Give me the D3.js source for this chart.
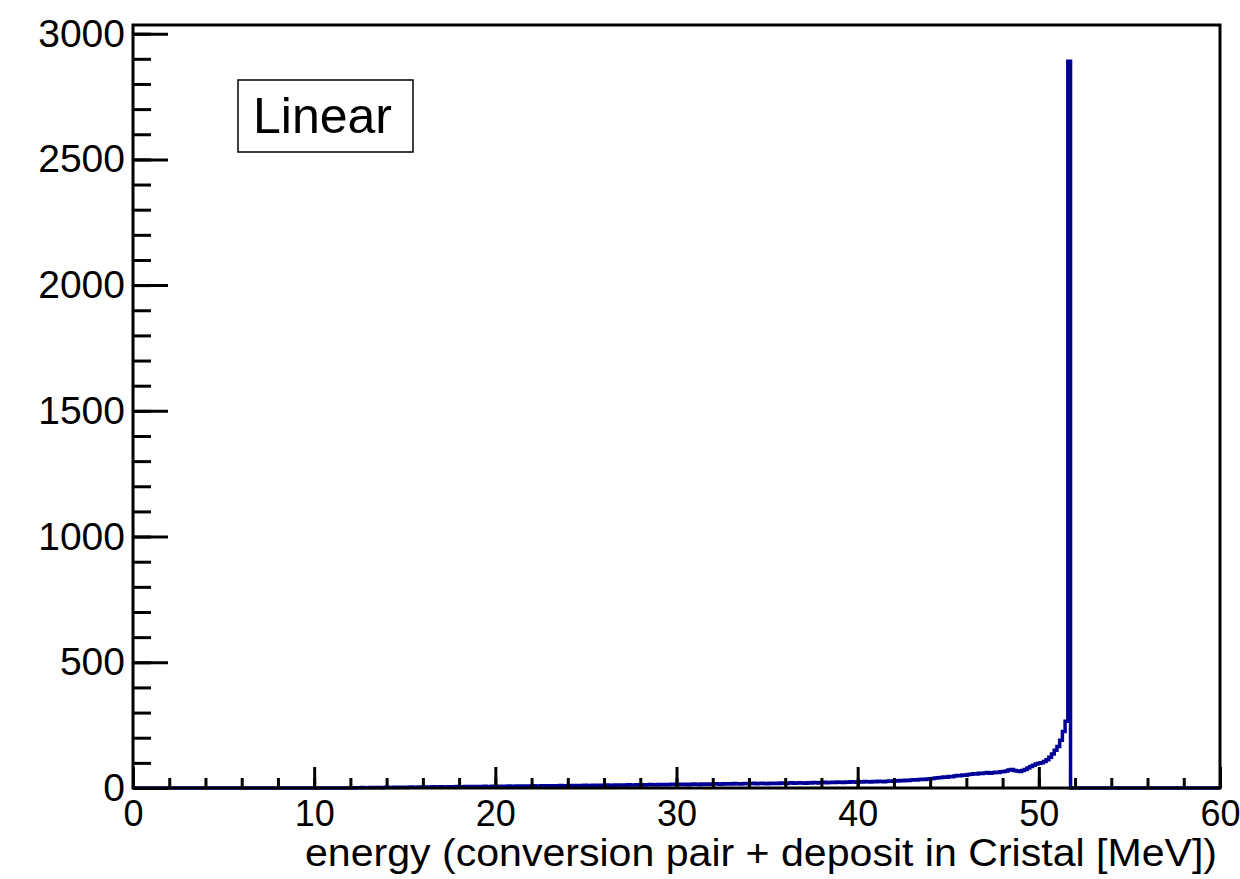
<!DOCTYPE html>
<html>
<head>
<meta charset="utf-8">
<script src="https://cdn.jsdelivr.net/npm/d3@7"></script>
<style>
  body { margin: 0; background: #fff; }
  text { font-family: "Liberation Sans", Arial, sans-serif; fill: #000; }
</style>
</head>
<body>
<div id="chart"></div>
<script>
// histogram: 0.15 MeV bins (400 over 0-60), counts listed from 12 MeV up to the peak bin
const binStart = 12
const binWidth = 0.15
const counts = [
  1, 0, 1, 1, 2, 1, 1, 2, 1, 2, 2, 1,
  2, 3, 2, 2, 3, 2, 3, 3, 2, 3, 4, 3,
  3, 4, 3, 4, 4, 3, 5, 4, 4, 5, 4, 4,
  5, 4, 5, 6, 5, 5, 6, 5, 6, 5, 6, 6,
  6, 7, 6, 6, 7, 6, 7, 7, 6, 7, 8, 7,
  7, 8, 7, 8, 8, 7, 8, 9, 8, 8, 9, 8,
  9, 8, 9, 9, 8, 10, 9, 9, 10, 9, 10, 9,
  10, 9, 11, 10, 10, 11, 10, 11, 11, 10, 12, 11,
  11, 12, 11, 12, 12, 11, 13, 12, 12, 13, 12, 13,
  12, 13, 14, 13, 12, 14, 13, 14, 13, 14, 15, 14,
  14, 15, 14, 15, 13, 15, 16, 15, 14, 16, 15, 16,
  15, 16, 17, 16, 15, 17, 16, 17, 16, 18, 17, 16,
  17, 18, 17, 18, 19, 17, 18, 19, 18, 17, 19, 18,
  19, 18, 20, 19, 18, 20, 21, 19, 20, 21, 20, 19,
  21, 20, 22, 21, 20, 22, 23, 21, 22, 23, 22, 24,
  23, 22, 24, 23, 25, 24, 23, 25, 24, 26, 25, 24,
  26, 25, 27, 26, 25, 27, 28, 27, 29, 28, 30, 29,
  31, 30, 32, 33, 32, 34, 35, 34, 36, 37, 38, 40,
  41, 42, 44, 43, 46, 45, 48, 50, 49, 52, 51, 54,
  55, 57, 56, 59, 58, 60, 62, 59, 61, 63, 62, 65,
  66, 68, 72, 74, 70, 68, 66, 70, 74, 80, 86, 90,
  95, 98, 100, 105, 112, 122, 135, 150, 165, 190, 225, 265,
  2890
]
const xTicks = [0, 10, 20, 30, 40, 50, 60]
const yTicks = [0, 500, 1000, 1500, 2000, 2500, 3000]
const xTitle = "energy (conversion pair + deposit in Cristal [MeV])"
const boxLabel = "Linear"

const W = 1240, H = 879
const FRAME = { LEFT: 133, RIGHT: 1220, TOP: 25, BOTTOM: 788 }

const svg = d3.select("#chart").append("svg")
  .attr("width", W).attr("height", H)

const x = d3.scaleLinear().domain([0, 60]).range([FRAME.LEFT, FRAME.RIGHT])
const y = d3.scaleLinear().domain([0, d3.max(counts) * 1.05]).range([FRAME.BOTTOM, FRAME.TOP])

// step outline of the histogram
const pts = [[0, 0], [binStart, 0]]
counts.forEach((c, i) => {
  const lo = binStart + i * binWidth
  pts.push([lo, c], [lo + binWidth, c])
})
const end = binStart + counts.length * binWidth
pts.push([end, 0], [60, 0])

svg.append("path")
  .attr("d", d3.line().x(d => x(d[0])).y(d => y(d[1]))(pts))
  .attr("fill", "none")
  .attr("stroke", "#000099")
  .attr("stroke-width", 3.5)

// frame
svg.append("rect")
  .attr("x", FRAME.LEFT).attr("y", FRAME.TOP)
  .attr("width", FRAME.RIGHT - FRAME.LEFT)
  .attr("height", FRAME.BOTTOM - FRAME.TOP)
  .attr("fill", "none").attr("stroke", "#000").attr("stroke-width", 3)

// x axis: minor ticks, then major ticks with labels
const xMinor = d3.range(0, 61, 2)
svg.append("g")
  .attr("transform", `translate(0, ${FRAME.BOTTOM})`)
  .call(d3.axisBottom(x).tickValues(xMinor).tickSize(-10).tickFormat(""))
  .call(g => g.select(".domain").remove())
  .call(g => g.selectAll("line").attr("stroke-width", 3))

svg.append("g")
  .attr("transform", `translate(0, ${FRAME.BOTTOM})`)
  .call(d3.axisBottom(x).tickValues(xTicks).tickSize(-21).tickPadding(12).tickFormat(d3.format("d")))
  .call(g => g.select(".domain").remove())
  .call(g => g.selectAll("line").attr("stroke-width", 3))
  .call(g => g.selectAll("text").attr("font-size", 36).style("font-family", "Liberation Sans"))

// y axis
const yMinor = d3.range(0, 3001, 100)
svg.append("g")
  .attr("transform", `translate(${FRAME.LEFT}, 0)`)
  .call(d3.axisLeft(y).tickValues(yMinor).tickSize(-18).tickFormat(""))
  .call(g => g.select(".domain").remove())
  .call(g => g.selectAll("line").attr("stroke-width", 3))

svg.append("g")
  .attr("transform", `translate(${FRAME.LEFT}, 0)`)
  .call(d3.axisLeft(y).tickValues(yTicks).tickSize(-35).tickPadding(8).tickFormat(d3.format("d")))
  .call(g => g.select(".domain").remove())
  .call(g => g.selectAll("line").attr("stroke-width", 3))
  .call(g => g.selectAll("text").attr("font-size", 39).style("font-family", "Liberation Sans"))

// x title
svg.append("text")
  .attr("x", 1217).attr("y", 866)
  .attr("text-anchor", "end")
  .attr("font-size", 38)
  .attr("textLength", 912)
  .attr("lengthAdjust", "spacingAndGlyphs")
  .text(xTitle)

// label box
svg.append("rect")
  .attr("x", 238).attr("y", 80).attr("width", 175).attr("height", 72)
  .attr("fill", "#fff").attr("stroke", "#000").attr("stroke-width", 1.5)
svg.append("text")
  .attr("x", 253).attr("y", 133)
  .attr("font-size", 50)
  .text(boxLabel)
</script>
</body>
</html>
